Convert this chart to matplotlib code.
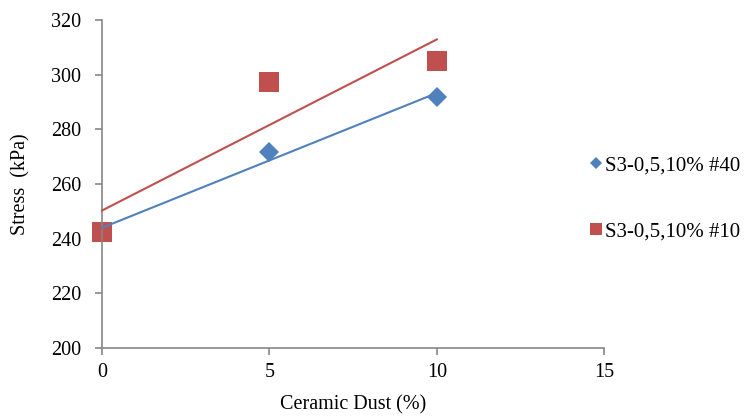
import matplotlib.pyplot as plt
import numpy as np

plt.rcParams['font.family'] = ['Liberation Serif', 'DejaVu Serif']

# ceramic dust content (%)
dust = [0, 5, 10]
# stress (kPa) for each sieve series
stress_40 = [242.4, 271.8, 291.7]
stress_10 = [242.4, 297.4, 305.0]
labels = ['S3-0,5,10% #40', 'S3-0,5,10% #10']

blue = '#4F81BD'
red = '#C0504D'
gray = '#868686'

fig = plt.figure(figsize=(7.45, 4.17), dpi=100)
ax = fig.add_axes([0.137, 0.1655, 0.674, 0.7865])

ax.plot(dust, stress_40, 'D', color=blue, markersize=10.5, markeredgewidth=0,
        label=labels[0], zorder=2, clip_on=False)
ax.plot(dust, stress_10, 's', color=red, markersize=14, markeredgewidth=0,
        label=labels[1], zorder=2, clip_on=False)

# linear trendlines
for ys, c in [(stress_40, blue), (stress_10, red)]:
    k, b = np.polyfit(dust, ys, 1)
    xs = np.array([min(dust), max(dust)])
    ax.plot(xs, k * xs + b, color=c, linewidth=1.5, zorder=3, clip_on=False)

ax.set_xlim(0, 15)
ax.set_ylim(200, 320)
ax.set_xticks([0, 5, 10, 15])
ax.set_yticks(range(200, 321, 20))

for side in ['top', 'right']:
    ax.spines[side].set_visible(False)
for side in ['left', 'bottom']:
    ax.spines[side].set_color(gray)
    ax.spines[side].set_linewidth(1.2)
ax.tick_params(colors=gray, labelcolor='black', labelsize=14.5, length=5, width=1.2)
ax.tick_params(axis='y', pad=10)
ax.tick_params(axis='x', pad=6)

ax.set_xlabel('Ceramic Dust (%)', fontsize=14.5, labelpad=9)
ax.set_ylabel('Stress  (kPa)', fontsize=14.5, labelpad=15)

fig.legend(loc='center left', bbox_to_anchor=(0.766, 0.524), frameon=False,
           fontsize=15, markerscale=0.6, handlelength=0.6, handletextpad=0.15,
           labelspacing=2.25)

plt.savefig('out.png')
